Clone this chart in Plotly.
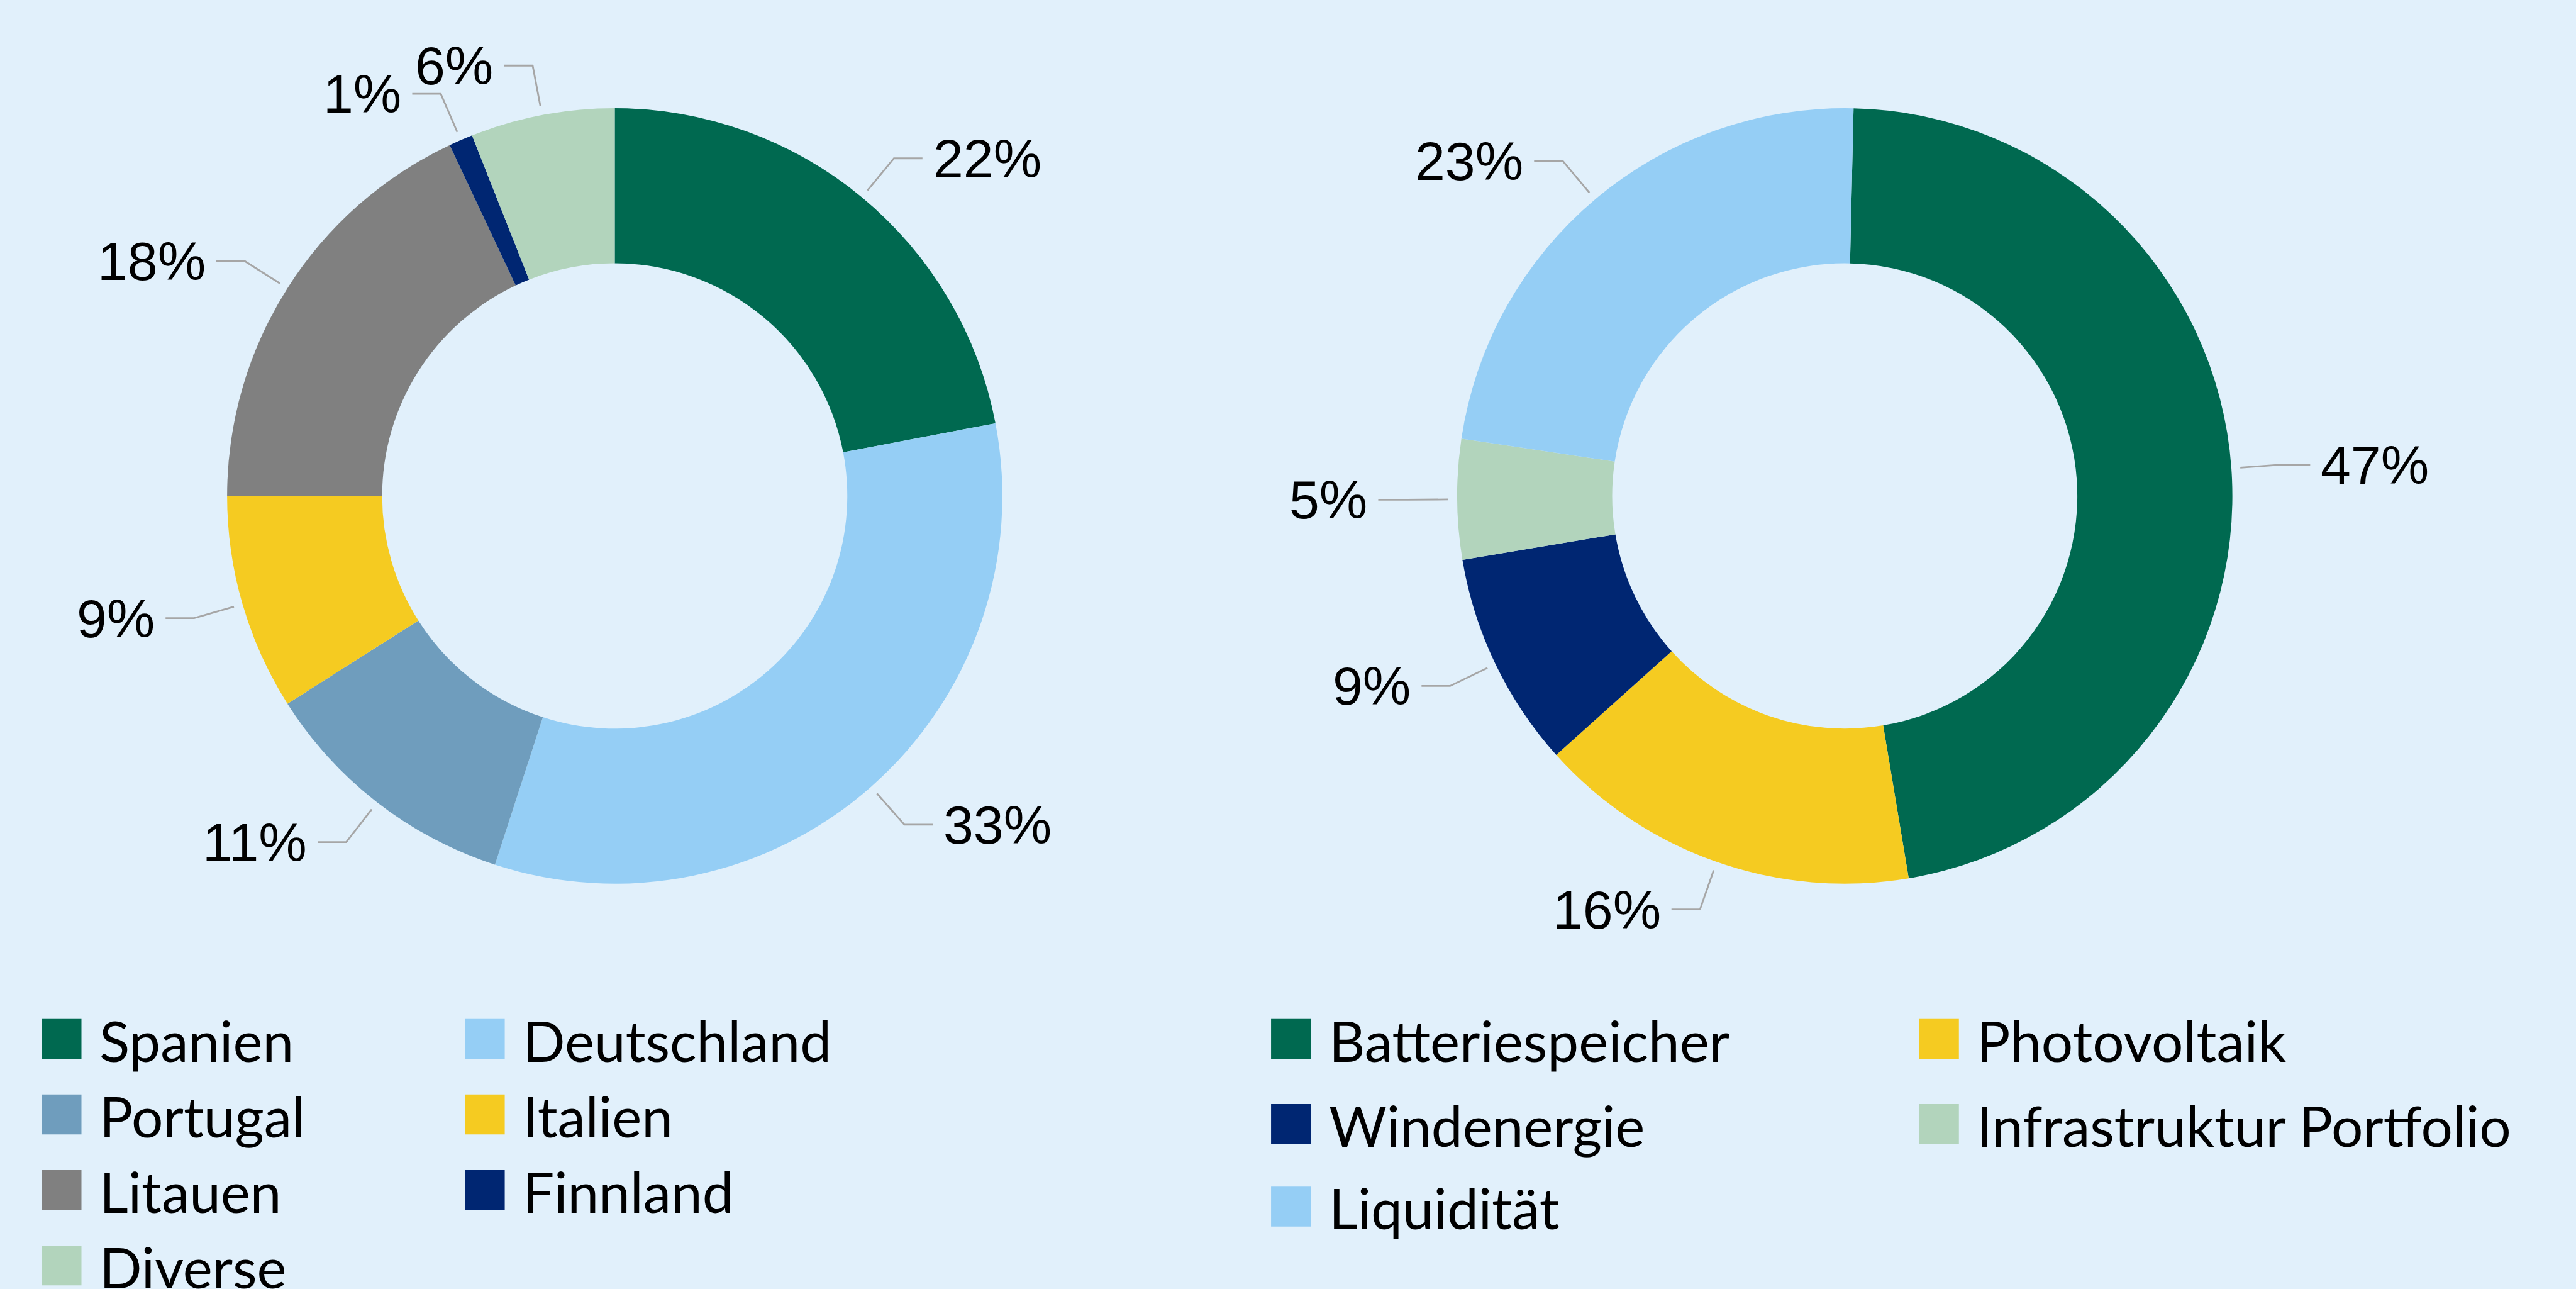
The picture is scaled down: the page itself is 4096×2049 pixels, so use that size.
import math
import plotly.graph_objects as go

# ---------------- data ----------------
left_labels = ["Spanien", "Deutschland", "Portugal", "Italien", "Litauen", "Finnland", "Diverse"]
left_values = [22, 33, 11, 9, 18, 1, 6]
left_colors = ["#006950", "#95CEF5", "#6F9DBD", "#F5CB21", "#808080", "#002672", "#B2D4BC"]

right_labels = ["Batteriespeicher", "Photovoltaik", "Windenergie", "Infrastruktur Portfolio", "Liquidität"]
right_values = [47, 16, 9, 5, 23]
right_colors = ["#006950", "#F5CB21", "#002672", "#B2D4BC", "#95CEF5"]

# ---------------- layout constants (reference pixels) ----------------
W, H = 4096, 2049
S = W / 4333.0
BG = "#E1F0FB"
R = 652
HOLE = 0.60
LEFT_C = (1034, 834)
RIGHT_C = (3103, 834)
LEFT_ROT = 0
RIGHT_ROT = 1.3

LABEL_FONT = dict(family="Liberation Sans, Arial, sans-serif", size=86, color="#000000")
LEGEND_FONT = dict(family="Lato, sans-serif", size=89, color="#000000")
LINE_COLOR = "#A6A6A6"


def px(x):
    return x * S / W


def py(y):
    return 1 - y * S / H


def domain(c, r):
    cx, cy = c
    return dict(x=[px(cx - r), px(cx + r)], y=[py(cy + r), py(cy - r)])


fig = go.Figure()

for labels, values, colors, c, rot in [
    (left_labels, left_values, left_colors, LEFT_C, LEFT_ROT),
    (right_labels, right_values, right_colors, RIGHT_C, RIGHT_ROT),
]:
    fig.add_trace(go.Pie(
        labels=labels, values=values,
        marker=dict(colors=colors, line=dict(width=0)),
        hole=HOLE, sort=False, direction="clockwise", rotation=rot,
        textinfo="none", hoverinfo="label+percent",
        domain=domain(c, R), showlegend=False,
    ))

shapes = []
annotations = []


def add_labels(values, c, rot):
    cx, cy = c
    total = float(sum(values))
    cum = 0.0
    for v in values:
        mid = math.radians(rot + 360.0 * (cum + v / 2.0) / total)
        cum += v
        s, co = math.sin(mid), math.cos(mid)
        x0, y0 = cx + 1.023 * R * s, cy - 1.023 * R * co
        x1, y1 = cx + 1.13 * R * s, cy - 1.13 * R * co
        side = 1 if s >= 0 else -1
        x2 = x1 + side * 48
        tx = x2 + side * 17
        shapes.append(dict(
            type="path", xref="paper", yref="paper",
            path=f"M {px(x0)},{py(y0)} L {px(x1)},{py(y1)} L {px(x2)},{py(y1)}",
            line=dict(color=LINE_COLOR, width=2.8),
        ))
        annotations.append(dict(
            x=px(tx), y=py(y1), xref="paper", yref="paper",
            text=f"{round(100 * v / total)}%", showarrow=False,
            xanchor="left" if side > 0 else "right", yanchor="middle",
            font=LABEL_FONT, borderpad=0,
        ))


add_labels(left_values, LEFT_C, LEFT_ROT)
add_labels(right_values, RIGHT_C, RIGHT_ROT)

# ---------------- legends (2 columns, row-major) ----------------
SW = 67


def add_legend(labels, colors, col_sw, col_tx, rows):
    for i, (lab, col) in enumerate(zip(labels, colors)):
        r, k = divmod(i, 2)
        yc = rows[r]
        x0 = col_sw[k]
        shapes.append(dict(
            type="rect", xref="paper", yref="paper",
            x0=px(x0), x1=px(x0 + SW), y0=py(yc - SW / 2), y1=py(yc + SW / 2),
            fillcolor=col, line=dict(width=0),
        ))
        annotations.append(dict(
            x=px(col_tx[k] - 4), y=py(yc + 2), xref="paper", yref="paper",
            text=lab, showarrow=False, xanchor="left", yanchor="middle",
            font=LEGEND_FONT, borderpad=0,
        ))


add_legend(left_labels, left_colors, [70, 782], [170, 882], [1747, 1874, 2001, 2128])
add_legend(right_labels, right_colors, [2138, 3228], [2238, 3328], [1747, 1890, 2029])

fig.update_layout(
    width=W, height=H,
    margin=dict(l=0, r=0, t=0, b=0),
    paper_bgcolor=BG, plot_bgcolor=BG,
    showlegend=False,
    shapes=shapes, annotations=annotations,
)

fig.write_html(
    "out.html",
    config={"displayModeBar": False},
    post_script=(
        "document.body.style.margin='0';"
        "document.body.style.background='" + BG + "';"
        "document.documentElement.style.overflow='hidden';"
    ),
)
